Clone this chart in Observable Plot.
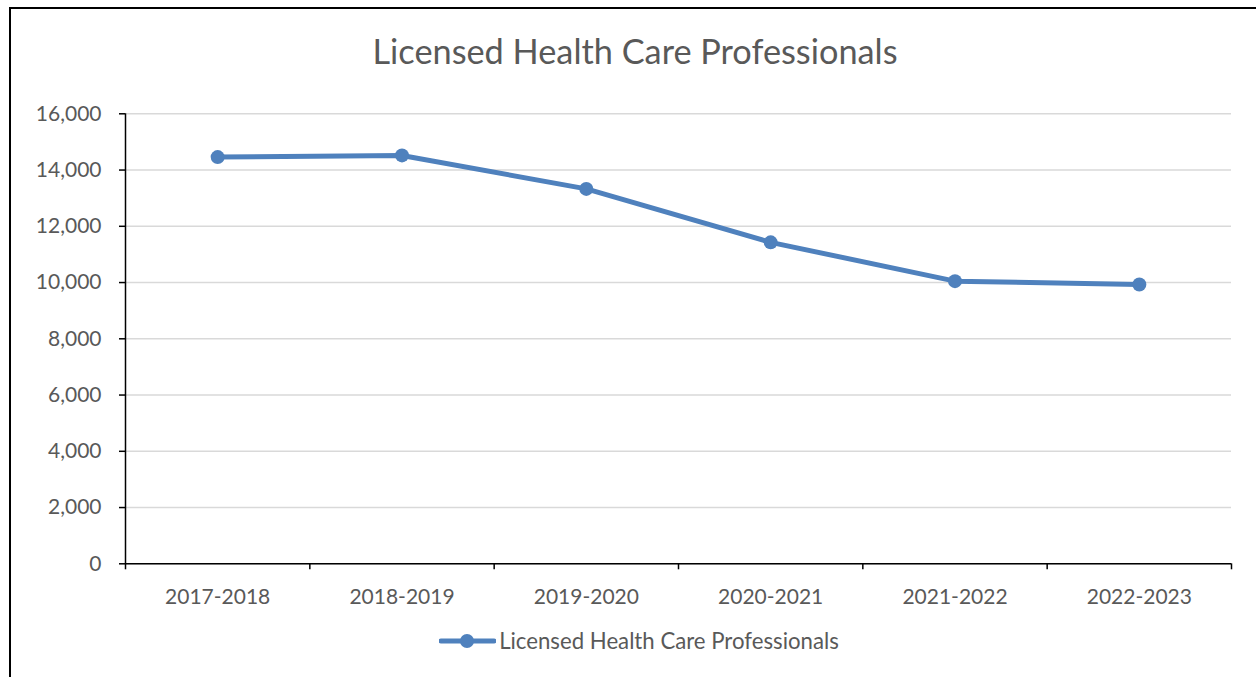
<!DOCTYPE html>
<html>
<head>
<meta charset="utf-8">
<script src="https://cdn.jsdelivr.net/npm/d3@7"></script>
<script src="https://cdn.jsdelivr.net/npm/@observablehq/plot@0.6"></script>
<style>
  html, body { margin:0; padding:0; background:#fff; overflow:hidden; width:1256px; height:677px; }
  #frame { position:absolute; left:9px; top:7px; width:1300px; height:720px; border:2px solid #000; box-sizing:border-box; }
  #title { position:absolute; left:0; width:1270px; top:30px; text-align:center; font-family:Lato, sans-serif; font-size:34.3px; color:#595959; }
  #chart { position:absolute; left:0; top:90px; }
  #legend { position:absolute; left:0; width:1278px; top:627px; text-align:center; font-family:Lato, sans-serif; font-size:22.2px; color:#595959; white-space:nowrap; }
  #legend svg { vertical-align:middle; margin-right:3px; position:relative; top:-2px; }
</style>
</head>
<body>
<div id="frame"></div>
<div id="title">Licensed Health Care Professionals</div>
<div id="chart"></div>
<div id="legend"></div>
<script>
const categories = ["2017-2018", "2018-2019", "2019-2020", "2020-2021", "2021-2022", "2022-2023"];
const values = [14460, 14520, 13330, 11430, 10050, 9930];
const yTicks = [0, 2000, 4000, 6000, 8000, 10000, 12000, 14000, 16000];
const seriesName = "Licensed Health Care Professionals";

const rows = categories.map((c, i) => ({pos: i + 0.5, category: c, value: values[i]}));
const boundaries = d3.range(categories.length + 1);
const blue = "#4f81bd";

const chart = Plot.plot({
  width: 1256,
  height: 530,
  marginLeft: 125,
  marginRight: 25,
  marginTop: 23.3,
  marginBottom: 56.7,
  x: {type: "linear", domain: [0, categories.length], axis: null},
  y: {domain: [0, 16000], axis: null},
  style: {fontFamily: "Lato, sans-serif", fontSize: "21px", color: "#595959", background: "transparent"},
  marks: [
    Plot.gridY(yTicks, {stroke: "#d9d9d9", strokeOpacity: 1, strokeWidth: 1.5}),
    Plot.axisY({ticks: yTicks, tickFormat: d3.format(","), tickSize: 6, tickPadding: 18, color: "#595959", stroke: "#000", strokeWidth: 1.5, label: null}),
    Plot.axisX({ticks: boundaries, tickFormat: () => "", tickSize: 6, stroke: "#000", strokeWidth: 1.5, label: null}),
    Plot.axisX({ticks: rows.map(d => d.pos), tickFormat: d => categories[Math.round(d - 0.5)], tickSize: 0, tickPadding: 25, color: "#595959", label: null}),
    Plot.ruleX([0], {y1: 0, y2: 16000, stroke: "#000", strokeWidth: 1.5}),
    Plot.ruleY([0], {stroke: "#000", strokeWidth: 1.5}),
    Plot.line(rows, {x: "pos", y: "value", stroke: blue, strokeWidth: 5, strokeLinejoin: "round"}),
    Plot.dot(rows, {x: "pos", y: "value", r: 7, fill: blue, stroke: "none"})
  ]
});
document.getElementById("chart").appendChild(chart);

const legend = document.getElementById("legend");
legend.innerHTML = `<svg width="57" height="18" viewBox="0 0 57 18"><line x1="2" y1="9" x2="55" y2="9" stroke="${blue}" stroke-width="5" stroke-linecap="round"/><circle cx="28" cy="9" r="7" fill="${blue}"/></svg><span>${seriesName}</span>`;
</script>
</body>
</html>
